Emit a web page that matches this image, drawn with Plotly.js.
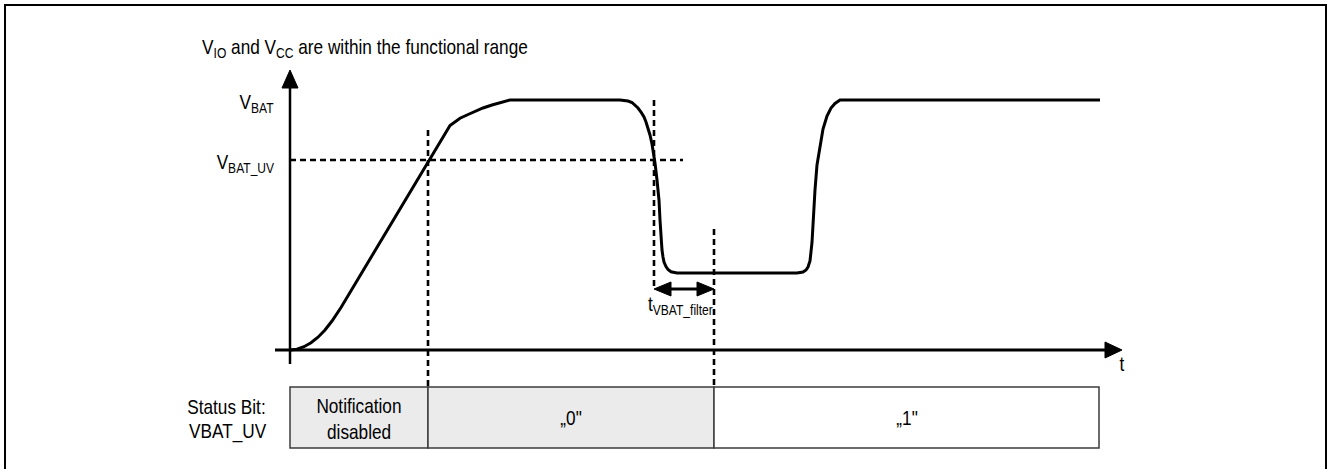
<!DOCTYPE html>
<html>
<head>
<meta charset="utf-8">
<script src="https://cdn.plot.ly/plotly-3.0.1.min.js"></script>
<style>html,body{margin:0;padding:0;background:#fff;}#chart{width:1331px;height:469px;}</style>
</head>
<body>
<div id="chart"></div>
<script>
// ---- data (time in schematic units, voltage normalised to V_BAT = 1) ----
const curveT = [0, 7, 14, 21, 28, 35, 42, 51, 160, 165, 170, 177, 185, 193, 202, 210, 220,
  330, 334, 338, 342, 345, 348, 351, 354, 356, 358, 360, 362, 363, 365, 367, 369, 370, 371, 372, 373, 374, 376, 378, 381, 384, 387,
  507, 510, 513, 516, 518, 520, 521, 522, 523, 524, 525, 527, 530, 533, 537, 541, 545, 548, 550, 810];
const curveV = [0, 0.003, 0.013, 0.029, 0.051, 0.080, 0.116, 0.170, 0.898, 0.914, 0.927, 0.94, 0.954, 0.968, 0.98, 0.99, 1.0,
  1.0, 0.999, 0.996, 0.99, 0.98, 0.968, 0.952, 0.932, 0.912, 0.888, 0.86, 0.824, 0.8, 0.748, 0.68, 0.6, 0.52, 0.44, 0.4, 0.372, 0.352, 0.334, 0.322, 0.313, 0.309, 0.308,
  0.308, 0.309, 0.312, 0.32, 0.332, 0.356, 0.384, 0.43, 0.5, 0.58, 0.64, 0.74, 0.82, 0.884, 0.936, 0.968, 0.986, 0.996, 1.0, 1.0];
const levelNames = ["V<sub>BAT</sub>", "V<sub>BAT_UV</sub>"];
const levelValues = [1.0, 0.76];
const eventTimes = [138, 364, 424];          // UV crossing (rise), UV crossing (fall), end of filter time
const filterLabel = "t<sub>VBAT_filter</sub>";
const statusBounds = [0, 138, 424, 809];
const statusTexts = [["Notification", "disabled"], ["„0\""], ["„1\""]];
const statusRowLabel = ["Status Bit:", "VBAT_UV"];
const titleText = "V<sub>IO</sub> and V<sub>CC</sub> are within the functional range";
const axisLabel = "t";

// ---- layout constants ----
const W = 1331, H = 469;
const X0 = 290, Y0 = 350, PXV = 250;          // origin pixel, px per V unit
const xr = [-X0, W - X0];
const yr = [(Y0 - H) / PXV, Y0 / PXV];
const px = p => p / PXV;                       // pixel length -> v units
const FONT = "Liberation Sans, Arial, sans-serif";
const SX = 0.82;                               // horizontal condensing of the lettering
const fillGray = "#ebebeb", boxLine = "#3c3c3c";

const shapes = [];
const dash = "6px,4px";
// frame
shapes.push({type: "rect", xref: "paper", yref: "paper", x0: 5 / W, x1: 1326 / W, y0: -0.05, y1: 1 - 5 / H,
  line: {color: "#000", width: 2}, fillcolor: "rgba(0,0,0,0)"});
// axes
shapes.push({type: "line", x0: 0, x1: 0, y0: px(-14), y1: px(262), line: {color: "#000", width: 2.5}});
shapes.push({type: "path", path: `M ${-8} ${px(262)} L 8 ${px(262)} L 0 ${px(280)} Z`, fillcolor: "#000", line: {color: "#000", width: 1}});
shapes.push({type: "line", x0: -15, x1: 815, y0: 0, y1: 0, line: {color: "#000", width: 3}});
shapes.push({type: "path", path: `M 815 ${px(8)} L 815 ${px(-8)} L 832 0 Z`, fillcolor: "#000", line: {color: "#000", width: 1}});
// V_BAT_UV dashed level
shapes.push({type: "line", x0: 0, x1: 393, y0: levelValues[1], y1: levelValues[1], line: {color: "#000", width: 2.4, dash: dash}});
// vertical event lines
const boxTop = px(-37), boxBot = px(-98);
shapes.push({type: "line", x0: eventTimes[0], x1: eventTimes[0], y0: px(220), y1: boxTop, line: {color: "#000", width: 2.6, dash: dash}});
shapes.push({type: "line", x0: eventTimes[1], x1: eventTimes[1], y0: levelValues[0], y1: px(60), line: {color: "#000", width: 2.6, dash: dash}});
shapes.push({type: "line", x0: eventTimes[2], x1: eventTimes[2], y0: px(121), y1: boxTop, line: {color: "#000", width: 2.6, dash: dash}});
// double arrow for filter time
const ay = px(61);
const a0 = eventTimes[1], a1 = eventTimes[2];
shapes.push({type: "line", x0: a0 + 14, x1: a1 - 14, y0: ay, y1: ay, line: {color: "#000", width: 3}});
shapes.push({type: "path", path: `M ${a0} ${ay} L ${a0 + 17} ${ay + px(7)} L ${a0 + 17} ${ay - px(7)} Z`, fillcolor: "#000", line: {color: "#000", width: 1}});
shapes.push({type: "path", path: `M ${a1} ${ay} L ${a1 - 17} ${ay + px(7)} L ${a1 - 17} ${ay - px(7)} Z`, fillcolor: "#000", line: {color: "#000", width: 1}});
// status boxes
const fills = [fillGray, fillGray, "#ffffff"];
for (let i = 0; i < statusTexts.length; i++) {
  shapes.push({type: "rect", x0: statusBounds[i], x1: statusBounds[i + 1], y0: boxBot, y1: boxTop,
    fillcolor: fills[i], line: {color: boxLine, width: 1.5}, layer: "below"});
}

const ann = [];
const A = (x, y, text, size, xanchor) => ann.push({x, y, text, showarrow: false, xanchor: xanchor || "center", yanchor: "middle",
  font: {family: FONT, size: size, color: "#000"}});
A(-90, px(302), titleText, 21, "left");
A(-14, levelValues[0] - px(3), levelNames[0], 21, "right");
A(-14, levelValues[1] - px(3), levelNames[1], 21, "right");
A(832, px(-13), axisLabel, 21, "center");
A(a0 - 8, px(45), filterLabel, 21, "left");
A(-22, px(-56), statusRowLabel[0], 21, "right");
A(-22, px(-81), statusRowLabel[1], 21, "right");
for (let i = 0; i < statusTexts.length; i++) {
  const cx = (statusBounds[i] + statusBounds[i + 1]) / 2;
  const lines = statusTexts[i];
  if (lines.length === 2) {
    A(cx, px(-55), lines[0], 21, "center");
    A(cx, px(-81), lines[1], 21, "center");
  } else {
    A(cx, (boxTop + boxBot) / 2, lines[0], 21, "center");
  }
}

const traces = [{x: curveT, y: curveV, mode: "lines", line: {color: "#000", width: 3, shape: "linear"}, hoverinfo: "skip"}];

const gd = document.getElementById("chart");
Plotly.newPlot(gd, traces, {
  width: W, height: H, margin: {l: 0, r: 0, t: 0, b: 0},
  paper_bgcolor: "#fff", plot_bgcolor: "#fff", showlegend: false,
  xaxis: {range: xr, visible: false, fixedrange: true},
  yaxis: {range: yr, visible: false, fixedrange: true},
  shapes: shapes, annotations: ann
}, {staticPlot: true}).then(() => {
  // condense lettering horizontally around each label's anchor
  gd.querySelectorAll("g.annotation").forEach(g => {
    const t = g.querySelector("text.annotation-text");
    if (!t) return;
    const idx = +g.getAttribute("data-index");
    const bb = t.getBBox();
    const xa = ann[idx] ? ann[idx].xanchor : "center";
    const ax = xa === "left" ? bb.x : xa === "right" ? bb.x + bb.width : bb.x + bb.width / 2;
    t.setAttribute("transform", `translate(${ax},0) scale(${SX},1) translate(${-ax},0)`);
  });
});
</script>
</body>
</html>
